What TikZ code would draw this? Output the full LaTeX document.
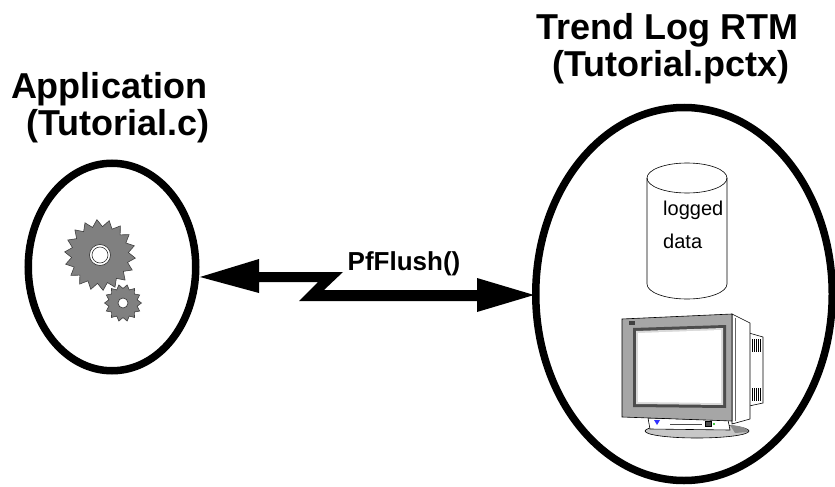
\documentclass[tikz,border=0pt]{standalone}
\usepackage{fontspec}
\setmainfont{Liberation Sans}
\usetikzlibrary{shapes.geometric}
\begin{document}
\begin{tikzpicture}[x=1pt,y=-1pt,
  ring/.style={draw, ellipse, line width=7.5pt, inner sep=0pt, outer sep=0pt},
  titletext/.style={font=\fontsize{36}{36}\selectfont\bfseries, anchor=base, inner sep=0pt},
  calltext/.style={font=\fontsize{26}{26}\selectfont\bfseries, anchor=base, inner sep=0pt},
  datatext/.style={font=\fontsize{20}{20}\selectfont, anchor=base west, inner sep=0pt},
  gear/.style={fill=black!50, draw=black!75, line width=0.6pt},
  thinline/.style={draw=black, line width=0.6pt}]
\useasboundingbox (0,0) rectangle (835,487);
\fill[white] (0,0) rectangle (835,487);

% titles
\node[titletext] (appA) at (109,99) {Application};
\node[titletext] (appB) at (118,135) {(Tutorial.c)};
\node[titletext] (rtmA) at (667,40) {Trend Log RTM};
\node[titletext] (rtmB) at (671,77) {(Tutorial.pctx)};

% the two process rings
\node[ring, minimum width=167.5pt, minimum height=207.5pt] (app) at (112,267) {};
\node[ring, minimum width=296.5pt, minimum height=373pt] (rtm) at (684,294) {};

% gears of the application
\begin{scope}[shift={(123,303)}]
  \draw[gear] (0:18.5) \foreach \k in {1,...,27}{ -- ({\k*360/28}:{mod(\k,2)==0 ? 18.5 : 14.5}) } -- cycle;
  \filldraw[fill=white, draw=black!80, line width=0.6pt] (0,0) circle (5pt);
\end{scope}
\begin{scope}[shift={(100,255)}]
  \draw[gear] (5:35.5) \foreach \k in {1,...,35}{ -- ({5+\k*10}:{mod(\k,2)==0 ? 35.5 : 28.5}) } -- cycle;
  \filldraw[fill=white, draw=black!80, line width=0.6pt] (0,0) circle (10.5pt);
  \draw[black!80, line width=0.6pt] (0,0) circle (8pt);
\end{scope}

% PfFlush() lightning double arrow
\coordinate (tipL) at (200,277);
\coordinate (tipR) at (534,295);
\fill[black] (tipL) -- (259,259) -- (259,272) -- (343,272) -- (324,290)
  -- (477,290) -- (477,278) -- (tipR) -- (477,312) -- (477,301)
  -- (299,301) -- (318,282) -- (259,282) -- (259,293) -- cycle;
\node[calltext] (call) at (404,270) {PfFlush()};

% data store cylinder
\draw[thinline] (647,178) -- (647,284)
  .. controls (647,292.3) and (664.9,299) .. (687,299)
  .. controls (709.1,299) and (727,292.3) .. (727,284) -- (727,178);
\draw[thinline] (687,178) ellipse [x radius=40pt, y radius=15pt];
\node[datatext] (logA) at (663,215) {logged};
\node[datatext] (logB) at (663,248) {data};

% monitor: stand
\filldraw[fill=black!22, draw=black, line width=0.6pt] (697,431) ellipse [x radius=52pt, y radius=7pt];
\fill[black!45] (730,425) .. controls (745,426) and (749,430) .. (748,432) -- (735,433) -- cycle;
% front control strip
\filldraw[fill=white, draw=black, line width=0.6pt] (648,418) -- (728,420) -- (730,430) -- (650,429) -- cycle;
\draw[black!70, line width=0.8pt] (670,424) -- (702,424);
\fill[blue!80] (654,420) -- (660,420) -- (657,425) -- cycle;
\filldraw[fill=black!70, draw=black, line width=0.4pt] (705,421) rectangle (711,426);
\fill[green!70!black] (714,424) circle (1.2pt);
% rear box with vents
\filldraw[fill=white, draw=black, line width=0.6pt] (749,333) -- (763,337) -- (763,403) -- (749,406) -- cycle;
\foreach \x in {752,754,...,761}{
  \draw[black, line width=0.8pt] (\x,339) -- (\x,352);
  \draw[black, line width=0.8pt] (\x,388) -- (\x,401);
}
% side panel
\filldraw[fill=white, draw=black, line width=0.6pt] (732,314) -- (750,323) -- (750,419) -- (732,424) -- cycle;
\draw[black!60, line width=0.5pt] (735,318) -- (735,421);
% bezel and screen
\filldraw[fill=black!35, draw=black, line width=0.6pt] (622,319) -- (732,314) -- (732,421) -- (622,417) -- cycle;
\fill[black!70] (633,328) -- (726,325) -- (726,408) -- (633,407) -- cycle;
\fill[black!15] (636,331) -- (723,328) -- (723,405) -- (636,404) -- cycle;
\fill[white] (638,333) -- (721,330) -- (721,403) -- (638,402) -- cycle;
\fill[black!75] (629,321) rectangle (635,325);
\end{tikzpicture}
\end{document}
